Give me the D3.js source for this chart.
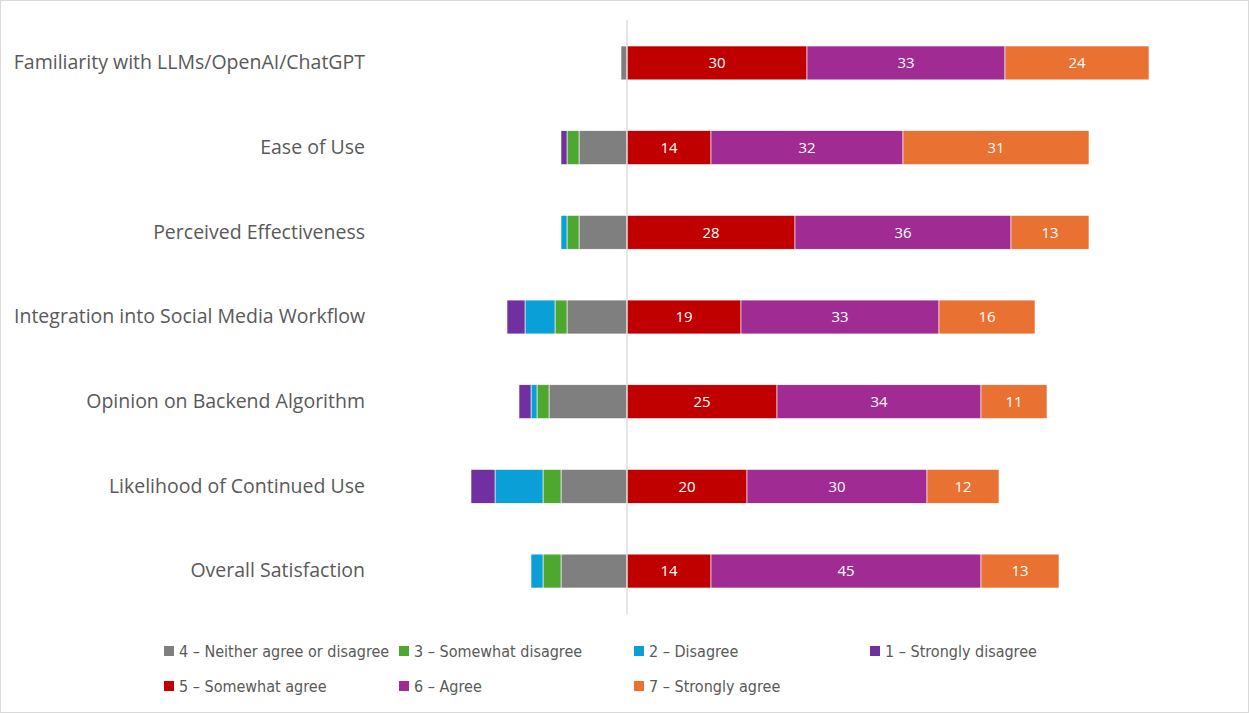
<!DOCTYPE html>
<html>
<head>
<meta charset="utf-8">
<script src="https://cdn.jsdelivr.net/npm/d3@7"></script>
<style>
  html, body { margin: 0; padding: 0; background: #fff; }
  svg { display: block; }
</style>
</head>
<body>
<div id="chart"></div>
<script>
// Survey items, top to bottom
const categories = [
  "Familiarity with LLMs/OpenAI/ChatGPT",
  "Ease of Use",
  "Perceived Effectiveness",
  "Integration into Social Media Workflow",
  "Opinion on Backend Algorithm",
  "Likelihood of Continued Use",
  "Overall Satisfaction"
];

// Response counts per Likert level
const strongDisagree = [0, 1, 0, 3, 2, 4, 0];   // 1
const disagree       = [0, 0, 1, 5, 1, 8, 2];   // 2
const someDisagree   = [0, 2, 2, 2, 2, 3, 3];   // 3
const neutral        = [1, 8, 8, 10, 13, 11, 11]; // 4
const someAgree      = [30, 14, 28, 19, 25, 20, 14]; // 5
const agree          = [33, 32, 36, 33, 34, 30, 45]; // 6
const strongAgree    = [24, 31, 13, 16, 11, 12, 13]; // 7

const levelNames = [
  "4 – Neither agree or disagree", "3 – Somewhat disagree", "2 – Disagree", "1 – Strongly disagree",
  "5 – Somewhat agree", "6 – Agree", "7 – Strongly agree"
];
const levelColors = ["#7f7f7f", "#4ea72e", "#0a9fd6", "#7030a0", "#c00000", "#a02b93", "#e97132"];

// negative side stacks outward from zero: 4, 3, 2, 1 ; positive side: 5, 6, 7
const negSeries = [neutral, someDisagree, disagree, strongDisagree];
const posSeries = [someAgree, agree, strongAgree];

const width = 1249, height = 713;

const svg = d3.select("#chart").append("svg")
  .attr("width", width)
  .attr("height", height)
  .style("font-family", "'Open Sans', 'Liberation Sans', sans-serif");

// light chart border
svg.append("rect")
  .attr("x", 0.5).attr("y", 0.5)
  .attr("width", width - 1).attr("height", height - 1)
  .attr("fill", "none")
  .attr("stroke", "#d9d9d9");

const x = d3.scaleLinear()
  .domain([-40, 90])
  .range([387, 1167]);

const y = d3.scaleBand()
  .domain(categories)
  .range([20.6, 613.4])
  .paddingInner(0.6)
  .paddingOuter(0.3);

// build segments
const segments = [];
categories.forEach((c, i) => {
  let acc = 0;
  negSeries.forEach((s, k) => {
    const v = s[i];
    if (v > 0) segments.push({ cat: c, x0: -acc - v, x1: -acc, v: v, color: levelColors[k], label: false });
    acc += v;
  });
  acc = 0;
  posSeries.forEach((s, k) => {
    const v = s[i];
    if (v > 0) segments.push({ cat: c, x0: acc, x1: acc + v, v: v, color: levelColors[4 + k], label: true });
    acc += v;
  });
});

const g = svg.append("g");

g.selectAll("rect.seg")
  .data(segments)
  .enter().append("rect")
  .attr("class", "seg")
  .attr("x", d => x(d.x0))
  .attr("y", d => y(d.cat))
  .attr("width", d => x(d.x1) - x(d.x0))
  .attr("height", y.bandwidth())
  .attr("fill", d => d.color)
  .attr("stroke", "#ffffff")
  .attr("stroke-width", 0.6);

// data labels on positive side
g.selectAll("text.lbl")
  .data(segments.filter(d => d.label))
  .enter().append("text")
  .attr("class", "lbl")
  .attr("x", d => (x(d.x0) + x(d.x1)) / 2)
  .attr("y", d => y(d.cat) + y.bandwidth() / 2)
  .attr("dy", "0.35em")
  .attr("text-anchor", "middle")
  .attr("fill", "#ffffff")
  .attr("font-size", "15px")
  .text(d => d.v);

// zero line
svg.append("line")
  .attr("x1", x(0)).attr("x2", x(0))
  .attr("y1", 20).attr("y2", 614)
  .attr("stroke", "#d9d9d9")
  .attr("stroke-width", 1.3);

// category axis (labels only)
const yAxis = svg.append("g")
  .attr("transform", "translate(365,0)")
  .call(d3.axisLeft(y).tickSize(0).tickPadding(0));
yAxis.select(".domain").remove();
yAxis.selectAll("text")
  .attr("fill", "#595959")
  .attr("font-size", "19.5px")
  .style("font-family", "'Open Sans', 'Liberation Sans', sans-serif");

// legend
const legendPos = [
  [164, 651], [399, 651], [634, 651], [870, 651],
  [164, 686], [399, 686], [634, 686]
];
const legend = svg.append("g")
  .style("font-family", "'Liberation Sans Narrow', 'DejaVu Sans Condensed', 'Roboto', sans-serif")
  .attr("font-size", "16px");

levelNames.forEach((name, i) => {
  const item = legend.append("g")
    .attr("transform", `translate(${legendPos[i][0]},${legendPos[i][1]})`);
  item.append("rect")
    .attr("x", 0).attr("y", -5)
    .attr("width", 10).attr("height", 10)
    .attr("fill", levelColors[i]);
  item.append("text")
    .attr("x", 15)
    .attr("y", 0)
    .attr("dy", "0.35em")
    .attr("fill", "#595959")
    .text(name);
});
</script>
</body>
</html>
